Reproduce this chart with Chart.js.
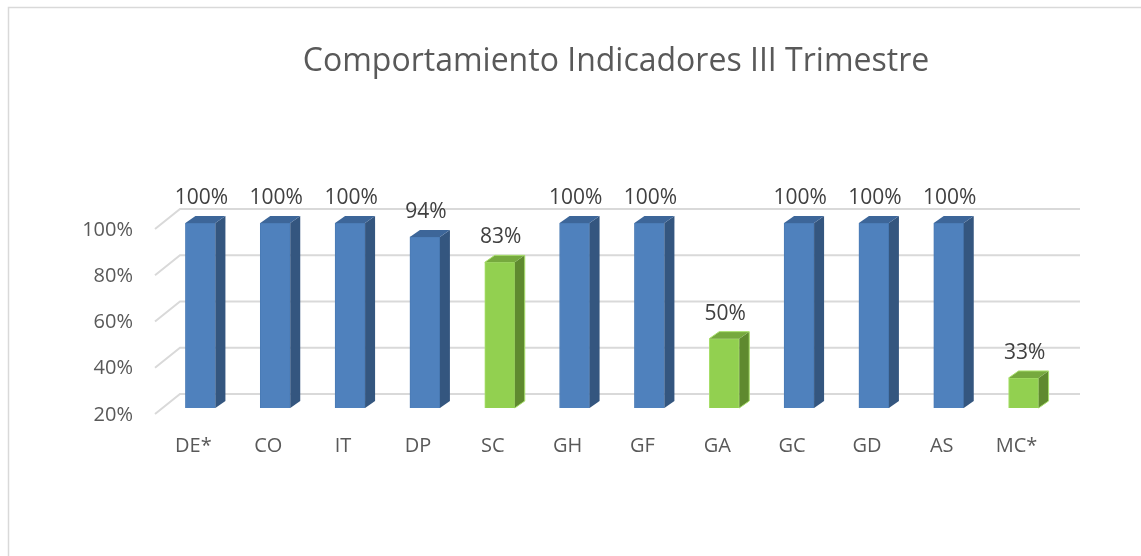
<!DOCTYPE html>
<html>
<head>
<meta charset="utf-8">
<script src="https://cdn.jsdelivr.net/npm/chart.js@4.4.1/dist/chart.umd.min.js"></script>
<style>
  html, body { margin: 0; padding: 0; background: #ffffff; overflow: hidden; }
  #wrap { width: 1141px; height: 556px; position: relative; overflow: hidden; }
</style>
</head>
<body>
<div id="wrap"><canvas id="c" width="1180" height="556"></canvas></div>
<script>
const titleText = 'Comportamiento Indicadores III Trimestre';
const categories = ['DE*', 'CO', 'IT', 'DP', 'SC', 'GH', 'GF', 'GA', 'GC', 'GD', 'AS', 'MC*'];
const values = [100, 100, 100, 94, 83, 100, 100, 50, 100, 100, 100, 33];
const highlighted = ['SC', 'GA', 'MC*'];
const yTicks = [20, 40, 60, 80, 100];

const FONT = '"Open Sans", "Noto Sans", sans-serif';
const BLUE = { front: '#4f81bd', side: '#34567f', top: '#3d6699', border: '#4a7bb5' };
const GREEN = { front: '#92d050', side: '#5f8a2f', top: '#76a93e', border: '#a9e06c' };
const DEPTH_X = 10, DEPTH_Y = 7;

function pal(i) { return highlighted.includes(categories[i]) ? GREEN : BLUE; }

const threeD = {
  id: 'threeD',
  beforeDraw(chart) {
    const ctx = chart.ctx;
    ctx.save();
    ctx.strokeStyle = '#d9d9d9';
    ctx.lineWidth = 1.5;
    ctx.strokeRect(8.5, 7.5, 1200, 600);
    ctx.restore();
  },
  beforeDatasetsDraw(chart) {
    const { ctx, chartArea, scales } = chart;
    const y = scales.y;
    ctx.save();
    ctx.strokeStyle = '#d9d9d9';
    ctx.lineWidth = 2;
    yTicks.forEach(v => {
      const yf = y.getPixelForValue(v);
      ctx.beginPath();
      ctx.moveTo(chartArea.left - 8, yf + 6);
      ctx.lineTo(chartArea.left + 17, yf - 14);
      ctx.lineTo(chartArea.right + 19, yf - 14);
      ctx.stroke();
    });
    ctx.restore();
  },
  afterDatasetsDraw(chart) {
    const { ctx, chartArea } = chart;
    const meta = chart.getDatasetMeta(0);
    ctx.save();
    meta.data.forEach((bar, i) => {
      const p = pal(i);
      const props = bar.getProps(['x', 'y', 'base', 'width'], true);
      const x = props.x, y = props.y, width = props.width;
      const base = Math.min(props.base, chartArea.bottom);
      const l = x - width / 2, r = x + width / 2;
      // side face
      ctx.fillStyle = p.side;
      ctx.beginPath();
      ctx.moveTo(r, y);
      ctx.lineTo(r + DEPTH_X, y - DEPTH_Y);
      ctx.lineTo(r + DEPTH_X, base - DEPTH_Y);
      ctx.lineTo(r, base);
      ctx.closePath();
      ctx.fill();
      // top face
      ctx.fillStyle = p.top;
      ctx.beginPath();
      ctx.moveTo(l, y);
      ctx.lineTo(l + DEPTH_X, y - DEPTH_Y);
      ctx.lineTo(r + DEPTH_X, y - DEPTH_Y);
      ctx.lineTo(r, y);
      ctx.closePath();
      ctx.fill();
      if (p === GREEN) {
        ctx.strokeStyle = p.border;
        ctx.lineWidth = 1;
        ctx.beginPath();
        ctx.moveTo(l, y);
        ctx.lineTo(l + DEPTH_X, y - DEPTH_Y);
        ctx.lineTo(r + DEPTH_X, y - DEPTH_Y);
        ctx.lineTo(r + DEPTH_X, base - DEPTH_Y);
        ctx.lineTo(r, base);
        ctx.stroke();
      }
      // data label
      ctx.fillStyle = '#404040';
      ctx.font = '21px ' + FONT;
      ctx.textAlign = 'center';
      ctx.textBaseline = 'middle';
      ctx.fillText(values[i] + '%', x + 1, y - 25);
    });
    ctx.restore();
  }
};

new Chart(document.getElementById('c'), {
  type: 'bar',
  data: {
    labels: categories,
    datasets: [{
      data: values,
      backgroundColor: values.map((v, i) => pal(i).front),
      borderColor: values.map((v, i) => pal(i).border),
      borderWidth: 1,
      barThickness: 30,
      categoryPercentage: 1,
      barPercentage: 1
    }]
  },
  options: {
    responsive: false,
    animation: false,
    events: [],
    layout: { padding: { left: 75, right: 23, top: 0, bottom: 0 } },
    plugins: {
      legend: { display: false },
      tooltip: { enabled: false },
      title: {
        display: true,
        text: titleText,
        color: '#595959',
        font: { family: FONT, size: 32, weight: 'normal' },
        padding: { top: 43, bottom: 141.6 }
      }
    },
    scales: {
      x: {
        grid: { display: false, drawTicks: false },
        border: { display: false },
        ticks: { color: '#595959', font: { family: FONT, size: 20 }, padding: 26, labelOffset: -7 },
        afterFit(s) { s.height = 148; }
      },
      y: {
        min: 20, max: 100,
        grid: { display: false, drawTicks: false },
        border: { display: false },
        ticks: {
          stepSize: 20,
          color: '#595959',
          font: { family: FONT, size: 20 },
          padding: 30,
          labelOffset: 7,
          callback: v => v + '%'
        },
        afterFit(s) { s.width = 88; }
      },
      yRight: {
        position: 'right',
        display: true,
        grid: { display: false, drawTicks: false },
        border: { display: false },
        ticks: { display: false },
        afterFit(s) { s.width = 96; }
      }
    }
  },
  plugins: [threeD]
});
</script>
</body>
</html>
